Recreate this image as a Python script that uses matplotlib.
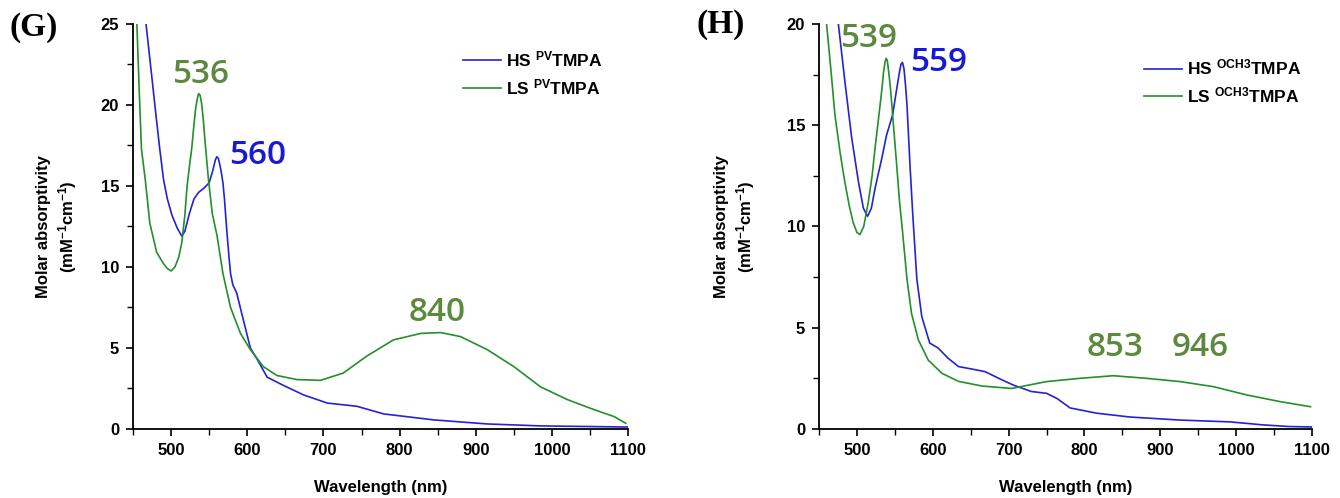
import matplotlib
matplotlib.use('Agg')
import matplotlib.pyplot as plt
from matplotlib.ticker import MultipleLocator

plt.rcParams['font.family'] = ['Liberation Sans', 'DejaVu Sans']
plt.rcParams['font.weight'] = 'bold'
plt.rcParams['mathtext.fontset'] = 'custom'
plt.rcParams['mathtext.rm'] = 'Liberation Sans:bold'
plt.rcParams['mathtext.bf'] = 'Liberation Sans:bold'
plt.rcParams['mathtext.default'] = 'bf'

# ---- panel G : PV-TMPA ----
g_hs_x = [467, 474, 480, 485, 490, 495, 501, 508, 514, 518, 524, 530, 536, 544, 550, 555, 558, 560, 562, 564,
          566, 568, 570, 573, 576, 578, 581, 586, 595, 604, 613, 626, 647, 674, 705, 744, 779, 845, 915, 985, 1050, 1100]
g_hs_y = [25, 22.0, 19.4, 17.3, 15.4, 14.2, 13.2, 12.4, 11.9, 12.2, 13.3, 14.2, 14.6, 14.9, 15.2, 16.0, 16.6, 16.8, 16.7, 16.3,
          15.8, 15.2, 14.2, 12.3, 10.6, 9.6, 8.9, 8.4, 6.7, 5.0, 4.3, 3.2, 2.7, 2.1, 1.6, 1.4, 0.93, 0.56, 0.31, 0.19, 0.15, 0.12]
g_ls_x = [455, 458, 461, 466, 472, 481, 490, 495, 500, 505, 510, 514, 518, 521, 524, 527, 530, 532, 534, 536, 538, 540,
          542, 545, 549, 554, 560, 568, 578, 591, 604, 621, 639, 665, 696, 726, 757, 792, 828, 854, 880, 915, 950, 985,
          1021, 1055, 1082, 1097]
g_ls_y = [25, 21, 17.3, 15.4, 12.7, 10.9, 10.2, 9.9, 9.75, 10.0, 10.6, 11.5, 13.2, 15.0, 16.2, 17.3, 18.8, 19.7, 20.3, 20.7, 20.6, 20.1,
          19.2, 17.5, 15.4, 13.3, 12.0, 9.6, 7.5, 5.9, 4.9, 3.85, 3.3, 3.05, 3.0, 3.45, 4.5, 5.5, 5.9, 5.95, 5.7, 4.9, 3.85, 2.6,
          1.8, 1.2, 0.76, 0.35]

# ---- panel H : OCH3-TMPA ----
h_hs_x = [475.5, 484, 493, 502, 508.5, 514, 519, 524, 533, 539, 547, 552.5, 556, 558, 560, 562, 564, 566, 568, 570, 573.6,
          579, 585.5, 596, 607, 620, 634, 651.5, 669, 687, 706, 730, 750, 764, 781, 816, 860, 926, 992, 1036, 1070, 1100]
h_hs_y = [20, 17.2, 14.4, 12.2, 10.9, 10.5, 10.9, 11.9, 13.4, 14.5, 15.5, 16.8, 17.6, 18.0, 18.1, 17.8, 17.0, 16.0, 14.5, 13.0, 10.6,
          7.4, 5.55, 4.24, 4.0, 3.5, 3.08, 2.96, 2.83, 2.5, 2.17, 1.85, 1.76, 1.5, 1.04, 0.78, 0.59, 0.44, 0.35, 0.2, 0.12, 0.1]
h_ls_x = [460, 466, 471, 478, 484, 490, 495, 500, 504, 509, 515, 520, 524, 529, 533, 535, 537, 538.5, 540, 542, 544, 546,
          549, 552.5, 556, 560, 566, 572, 581, 594, 612, 634, 665, 704, 750, 794, 838, 882, 926, 970, 1014, 1058, 1098]
h_ls_y = [20, 17.6, 15.5, 13.6, 12.2, 11.0, 10.2, 9.7, 9.6, 10.0, 11.2, 12.5, 13.9, 15.5, 16.8, 17.6, 18.1, 18.3, 18.2, 17.6, 16.9, 16.0,
          14.6, 13.0, 11.3, 9.8, 7.4, 5.7, 4.4, 3.4, 2.75, 2.35, 2.12, 2.0, 2.34, 2.5, 2.63, 2.5, 2.34, 2.09, 1.68, 1.35, 1.1]

BLUE = '#2323d6'
GREEN = '#23902a'
TXT_BLUE = '#1818d8'
TXT_GREEN = '#5c8a3c'

fig = plt.figure(figsize=(13.4, 4.98), dpi=100)
ax1 = fig.add_axes([0.0993, 0.1386, 0.3694, 0.8134])
ax2 = fig.add_axes([0.6112, 0.1386, 0.3679, 0.8134])


def style(ax, ymax):
    ax.set_xlim(450, 1100)
    ax.set_ylim(0, ymax)
    ax.spines['top'].set_visible(False)
    ax.spines['right'].set_visible(False)
    for s in ['left', 'bottom']:
        ax.spines[s].set_linewidth(1.3)
    ax.xaxis.set_major_locator(MultipleLocator(100))
    ax.xaxis.set_minor_locator(MultipleLocator(50))
    ax.yaxis.set_major_locator(MultipleLocator(5))
    ax.yaxis.set_minor_locator(MultipleLocator(2.5))
    ax.tick_params(which='major', direction='out', length=5, width=1.2, labelsize=12, pad=5)
    ax.tick_params(which='minor', direction='out', length=4, width=1.0)
    ax.set_xlabel('Wavelength (nm)', fontsize=12, fontweight='bold')
    ax.xaxis.set_label_coords(0.5, -0.125)
    ax.set_ylabel('Molar absorptivity\n(mM$^{-1}$cm$^{-1}$)', fontsize=12, fontweight='bold', linespacing=1.3)


style(ax1, 25)
style(ax2, 20)
ax1.yaxis.set_label_coords(-0.11, 0.5)
ax2.yaxis.set_label_coords(-0.125, 0.5)

ax1.plot(g_hs_x, g_hs_y, color=BLUE, lw=1.2, label='HS $^{PV}$TMPA')
ax1.plot(g_ls_x, g_ls_y, color=GREEN, lw=1.2, label='LS $^{PV}$TMPA')
ax2.plot(h_hs_x, h_hs_y, color=BLUE, lw=1.2, label='HS $^{OCH3}$TMPA')
ax2.plot(h_ls_x, h_ls_y, color=GREEN, lw=1.2, label='LS $^{OCH3}$TMPA')

for ax, anchor in [(ax1, (0.98, 0.975)), (ax2, (1.01, 0.955))]:
    ax.legend(loc='upper right', bbox_to_anchor=anchor, frameon=False, fontsize=12.5,
              handlelength=2.2, handletextpad=0.3, labelspacing=0.45)

pk = dict(fontsize=24, fontweight='semibold', family=['Open Sans', 'DejaVu Sans'], ha='center', va='center')
ax1.text(539, 21.9, '536', color=TXT_GREEN, **pk)
ax1.text(614, 16.9, '560', color=TXT_BLUE, **pk)
ax1.text(849, 7.2, '840', color=TXT_GREEN, **pk)
ax2.text(516, 19.3, '539', color=TXT_GREEN, **pk)
ax2.text(608, 18.1, '559', color=TXT_BLUE, **pk)
ax2.text(840, 4.0, '853', color=TXT_GREEN, **pk)
ax2.text(952, 4.0, '946', color=TXT_GREEN, **pk)

fig.text(0.007, 0.945, '(G)', fontsize=24, fontweight='bold', family=['Liberation Serif'], va='center')
fig.text(0.520, 0.95, '(H)', fontsize=24, fontweight='bold', family=['Liberation Serif'], va='center')

fig.savefig('out.png', dpi=100)
